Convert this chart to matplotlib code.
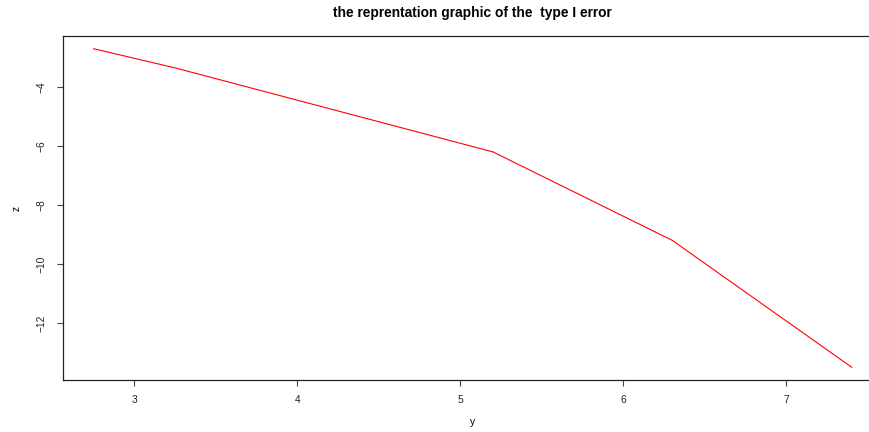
import numpy as np
import matplotlib.pyplot as plt

plt.rcParams['font.family'] = ['Liberation Sans', 'DejaVu Sans']

y = [2.75, 3.25, 5.2, 6.3, 7.4]
z = [-2.7, -3.35, -6.2, -9.2, -13.5]
xticks = [3, 4, 5, 6, 7]
yticks = [-12, -10, -8, -6, -4]

fig = plt.figure(figsize=(8.7, 4.32), dpi=100)
# plot region runs a bit past the right edge, like the original
ax = fig.add_axes([0.0728, 0.1204, 0.941, 0.7963])

ax.plot(y, z, color='red', linewidth=0.8)

# R style 4% padding
xr = max(y) - min(y)
zr = max(z) - min(z)
ax.set_xlim(min(y) - 0.04 * xr, max(y) + 0.04 * xr)
ax.set_ylim(min(z) - 0.04 * zr, max(z) + 0.04 * zr)

ax.set_xticks(xticks)
ax.set_yticks(yticks)
ax.set_xticklabels([str(t) for t in xticks])
ax.set_yticklabels(['\u2212' + str(-t) for t in yticks])
ax.tick_params(direction='out', length=4.3, width=0.8, colors='#444444',
               labelsize=7.4, labelcolor='#222222')
ax.tick_params(axis='x', pad=6.5)
ax.tick_params(axis='y', pad=7.5)
plt.setp(ax.get_yticklabels(), rotation=90, va='center')

for s in ax.spines.values():
    s.set_linewidth(0.9)
    s.set_color('#222222')

ax.set_xlabel('y', fontsize=7.4, labelpad=9)
ax.set_ylabel('z', fontsize=7.4, labelpad=11)
fig.text(0.5435, 0.97, 'the reprentation graphic of the  type I error',
         ha='center', va='center', fontsize=9.9, fontweight='bold')

fig.savefig('out.png', dpi=100)
